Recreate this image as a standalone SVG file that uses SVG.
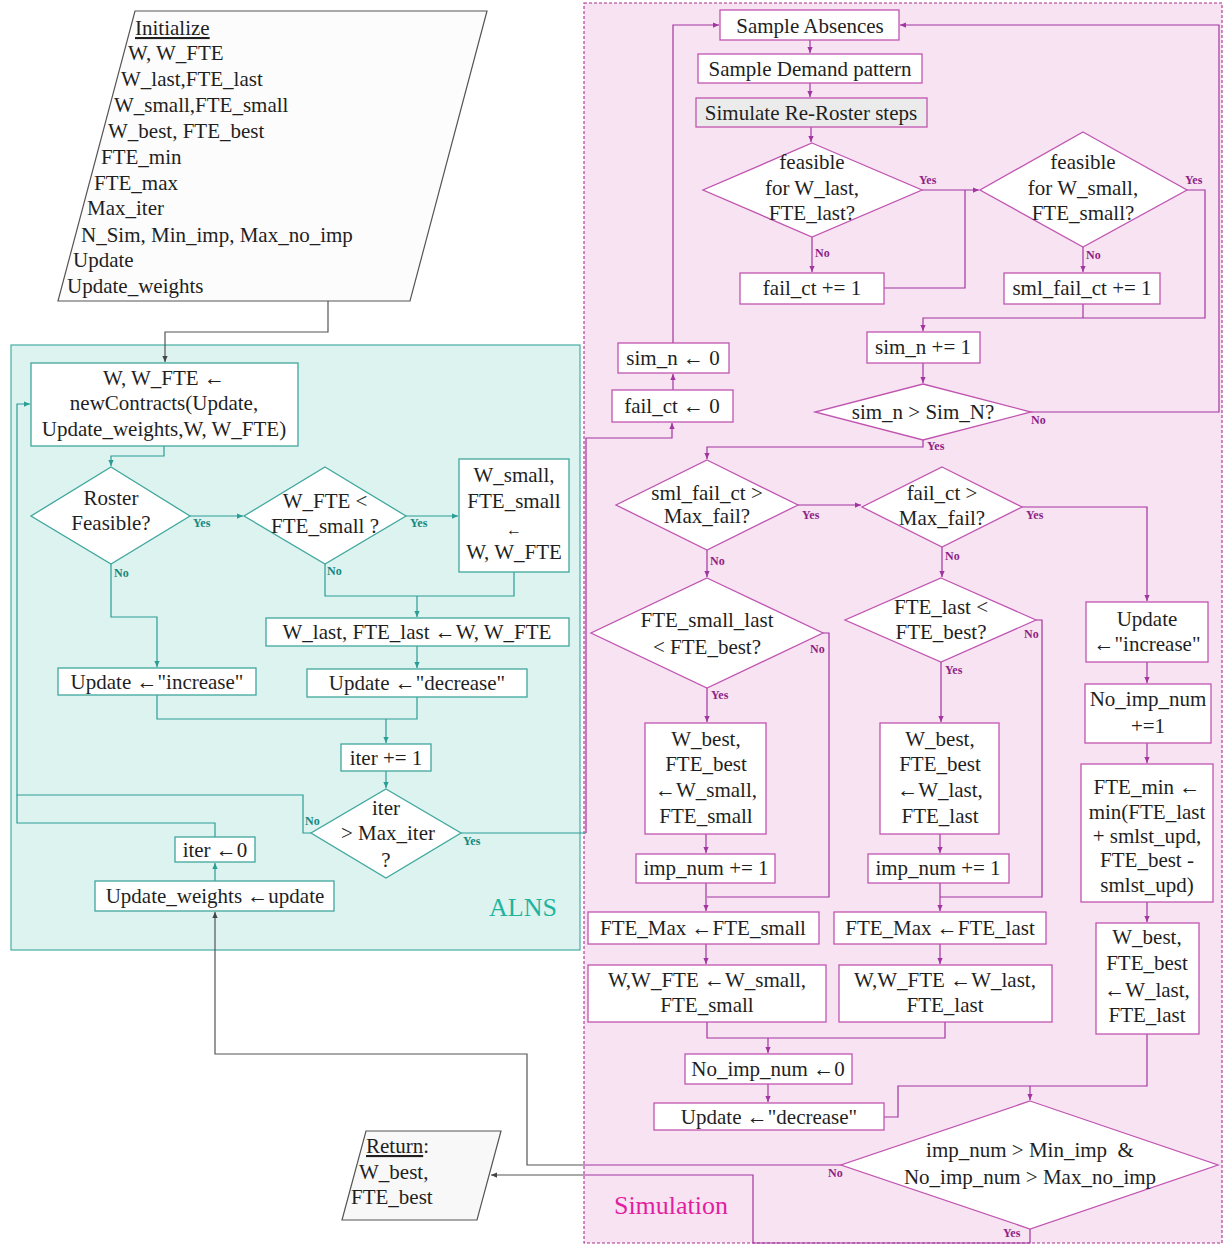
<svg xmlns="http://www.w3.org/2000/svg" width="1225" height="1245" viewBox="0 0 1225 1245">
<style>
.t{font-family:"Liberation Serif","Times New Roman",serif;font-size:21px;fill:#1f1f1f;text-anchor:middle}
.tl{font-family:"Liberation Serif","Times New Roman",serif;font-size:21px;fill:#1f1f1f}
.la{font-family:"Liberation Serif","Times New Roman",serif;font-size:12px;font-weight:bold;fill:#15877d}
.ls{font-family:"Liberation Serif","Times New Roman",serif;font-size:12px;font-weight:bold;fill:#8e1f86}
.na{fill:#ffffff;stroke:#3fa79d;stroke-width:1.3}
.ns{fill:#ffffff;stroke:#c055b0;stroke-width:1.3}
.ca{fill:none;stroke:#2a9d95;stroke-width:1.2}
.cs{fill:none;stroke:#a235a0;stroke-width:1.2}
.cg{fill:none;stroke:#555555;stroke-width:1.2}
</style>
<defs>
<marker id="ma" viewBox="0 0 8 8" refX="8" refY="4" markerWidth="6" markerHeight="6" markerUnits="userSpaceOnUse" orient="auto"><path d="M0,0.5 L8,4 L0,7.5z" fill="#2a9d95"/></marker>
<marker id="ms" viewBox="0 0 8 8" refX="8" refY="4" markerWidth="6" markerHeight="6" markerUnits="userSpaceOnUse" orient="auto"><path d="M0,0.5 L8,4 L0,7.5z" fill="#a235a0"/></marker>
<marker id="mg" viewBox="0 0 8 8" refX="8" refY="4" markerWidth="6" markerHeight="6" markerUnits="userSpaceOnUse" orient="auto"><path d="M0,0.5 L8,4 L0,7.5z" fill="#444444"/></marker>
</defs>
<rect x="0" y="0" width="1225" height="1245" fill="#ffffff"/>

<!-- containers -->
<g id="alns">
<rect x="11" y="345" width="569" height="605" fill="#dcf3ef" stroke="#45aea3" stroke-width="1.2"/>
<text x="523" y="916" style="font-family:'Liberation Serif','Times New Roman',serif;font-size:26px;fill:#1fb4a0;text-anchor:middle">ALNS</text>
</g>
<g id="simulation">
<rect x="584" y="3" width="638" height="1240" fill="#f8e3f3" stroke="#a8308f" stroke-width="1.1" stroke-dasharray="3,2"/>
<text x="671" y="1214" style="font-family:'Liberation Serif','Times New Roman',serif;font-size:26px;fill:#e21ea0;text-anchor:middle">Simulation</text>
</g>

<!-- connectors -->
<g id="connectors">
<path class="cg" d="M328,301 V332 H165 V362" marker-end="url(#mg)"/>
<path class="ca" d="M164,446 V456 H111 V466" marker-end="url(#ma)"/>
<path class="ca" d="M190,516 H243" marker-end="url(#ma)"/>
<path class="ca" d="M406,516 H458" marker-end="url(#ma)"/>
<path class="ca" d="M111,564 V617 H157 V667" marker-end="url(#ma)"/>
<path class="ca" d="M325,564 V596 H514 V572"/>
<path class="ca" d="M417,596 V617" marker-end="url(#ma)"/>
<path class="ca" d="M417,646 V668" marker-end="url(#ma)"/>
<path class="ca" d="M157,695 V719 H417 V697"/>
<path class="ca" d="M386,719 V743" marker-end="url(#ma)"/>
<path class="ca" d="M386,771 V788" marker-end="url(#ma)"/>
<path class="ca" d="M311,833 H303 V795 H17 V404 H30" marker-end="url(#ma)"/>
<path class="ca" d="M215,837 V823 H17 V795"/>
<path class="ca" d="M215,881 V863" marker-end="url(#ma)"/>
<path class="ca" d="M461,833 H586"/>
<path class="cs" d="M586,833 V438 H672 V423" marker-end="url(#ms)"/>
<path class="cs" d="M673,390 V374" marker-end="url(#ms)"/>
<path class="cs" d="M673,343 V25 H719" marker-end="url(#ms)"/>
<path class="cs" d="M1031,412 H1219 V25 H900" marker-end="url(#ms)"/>
<path class="cs" d="M810,40 V53" marker-end="url(#ms)"/>
<path class="cs" d="M810,83 V97" marker-end="url(#ms)"/>
<path class="cs" d="M811,127 V142" marker-end="url(#ms)"/>
<path class="cs" d="M922,190 H979" marker-end="url(#ms)"/>
<path class="cs" d="M812,237 V272" marker-end="url(#ms)"/>
<path class="cs" d="M884,288 H965 V190"/>
<path class="cs" d="M1187,190 H1205 V318 H923 V331" marker-end="url(#ms)"/>
<path class="cs" d="M1083,247 V272" marker-end="url(#ms)"/>
<path class="cs" d="M1083,304 V318"/>
<path class="cs" d="M923,363 V383" marker-end="url(#ms)"/>
<path class="cs" d="M923,440 V447 H707 V459" marker-end="url(#ms)"/>
<path class="cs" d="M798,505 H861" marker-end="url(#ms)"/>
<path class="cs" d="M707,550 V577" marker-end="url(#ms)"/>
<path class="cs" d="M942,547 V577" marker-end="url(#ms)"/>
<path class="cs" d="M1022,507 H1147 V601" marker-end="url(#ms)"/>
<path class="cs" d="M707,688 V722" marker-end="url(#ms)"/>
<path class="cs" d="M941,662 V722" marker-end="url(#ms)"/>
<path class="cs" d="M823,633 H829 V897 H707"/>
<path class="cs" d="M1036,620 H1042 V897 H940"/>
<path class="cs" d="M706,834 V853" marker-end="url(#ms)"/>
<path class="cs" d="M940,834 V853" marker-end="url(#ms)"/>
<path class="cs" d="M706,883 V911" marker-end="url(#ms)"/>
<path class="cs" d="M940,883 V911" marker-end="url(#ms)"/>
<path class="cs" d="M706,944 V964" marker-end="url(#ms)"/>
<path class="cs" d="M940,944 V964" marker-end="url(#ms)"/>
<path class="cs" d="M707,1022 V1038 H945 V1022"/>
<path class="cs" d="M768,1038 V1053" marker-end="url(#ms)"/>
<path class="cs" d="M768,1084 V1102" marker-end="url(#ms)"/>
<path class="cs" d="M884,1117 H898 V1086 H1147 V1034"/>
<path class="cs" d="M1030,1086 V1100" marker-end="url(#ms)"/>
<path class="cs" d="M1147,662 V683" marker-end="url(#ms)"/>
<path class="cs" d="M1147,743 V763" marker-end="url(#ms)"/>
<path class="cs" d="M1147,902 V922" marker-end="url(#ms)"/>
<path class="cs" d="M841,1165 H584"/>
<path class="cg" d="M584,1165 H527 V1054 H215 V912" marker-end="url(#mg)"/>
<path class="cs" d="M1030,1229 V1243 H753 V1175 H584"/>
<path class="cg" d="M584,1175 H491" marker-end="url(#mg)"/>
</g>

<!-- connector labels -->
<g id="labels">
<text class="la" x="193" y="527">Yes</text>
<text class="la" x="410" y="527">Yes</text>
<text class="la" x="114" y="577">No</text>
<text class="la" x="327" y="575">No</text>
<text class="la" x="305" y="825">No</text>
<text class="la" x="463" y="845">Yes</text>
<text class="ls" x="919" y="184">Yes</text>
<text class="ls" x="1185" y="184">Yes</text>
<text class="ls" x="815" y="257">No</text>
<text class="ls" x="1086" y="259">No</text>
<text class="ls" x="1031" y="424">No</text>
<text class="ls" x="927" y="450">Yes</text>
<text class="ls" x="802" y="519">Yes</text>
<text class="ls" x="1026" y="519">Yes</text>
<text class="ls" x="710" y="565">No</text>
<text class="ls" x="945" y="560">No</text>
<text class="ls" x="810" y="653">No</text>
<text class="ls" x="1024" y="638">No</text>
<text class="ls" x="711" y="699">Yes</text>
<text class="ls" x="945" y="674">Yes</text>
<text class="ls" x="828" y="1177">No</text>
<text class="ls" x="1003" y="1237">Yes</text>
</g>

<!-- ALNS nodes -->
<g id="initialize">
<polygon points="135,11 487,11 410,301 58,301" fill="#fcfcfc" stroke="#555" stroke-width="1.2"/>
<text class="tl" x="135" y="35" text-decoration="underline">Initialize</text>
<text class="tl" x="128" y="60">W, W_FTE</text>
<text class="tl" x="121" y="86">W_last,FTE_last</text>
<text class="tl" x="114" y="112">W_small,FTE_small</text>
<text class="tl" x="108" y="138">W_best, FTE_best</text>
<text class="tl" x="101" y="164">FTE_min</text>
<text class="tl" x="94" y="190">FTE_max</text>
<text class="tl" x="87" y="215">Max_iter</text>
<text class="tl" x="81" y="242">N_Sim, Min_imp, Max_no_imp</text>
<text class="tl" x="73" y="267">Update</text>
<text class="tl" x="67" y="293">Update_weights</text>
</g>
<g id="newContracts">
<rect class="na" x="31" y="363" width="267" height="83"/>
<text class="t" x="164" y="385">W, W_FTE ←</text>
<text class="t" x="164" y="410">newContracts(Update,</text>
<text class="t" x="164" y="436">Update_weights,W, W_FTE)</text>
</g>
<g id="rosterFeasible">
<polygon class="na" points="111,467 190,516 111,564 31,516"/>
<text class="t" x="111" y="505">Roster</text>
<text class="t" x="111" y="530">Feasible?</text>
</g>
<g id="wfteSmall">
<polygon class="na" points="325,467 406,516 325,564 244,516"/>
<text class="t" x="325" y="508">W_FTE &lt;</text>
<text class="t" x="325" y="533">FTE_small ?</text>
</g>
<g id="setSmall">
<rect class="na" x="459" y="459" width="110" height="113"/>
<text class="t" x="514" y="482">W_small,</text>
<text class="t" x="514" y="508">FTE_small</text>
<text class="t" x="514" y="535" style="font-size:16px">←</text>
<text class="t" x="514" y="559">W, W_FTE</text>
</g>
<g id="setLast">
<rect class="na" x="266" y="618" width="303" height="28"/>
<text class="t" x="417" y="639">W_last, FTE_last ←W, W_FTE</text>
</g>
<g id="updIncrease">
<rect class="na" x="58" y="668" width="198" height="27"/>
<text class="t" x="157" y="689">Update ←"increase"</text>
</g>
<g id="updDecrease">
<rect class="na" x="307" y="669" width="220" height="28"/>
<text class="t" x="417" y="690">Update ←"decrease"</text>
</g>
<g id="iterInc">
<rect class="na" x="341" y="744" width="90" height="27"/>
<text class="t" x="386" y="765">iter += 1</text>
</g>
<g id="iterMax">
<polygon class="na" points="386,789 461,833 386,878 311,833"/>
<text class="t" x="386" y="815">iter</text>
<text class="t" x="388" y="840">&gt; Max_iter</text>
<text class="t" x="386" y="867">?</text>
</g>
<g id="iterZero">
<rect class="na" x="175" y="837" width="80" height="25"/>
<text class="t" x="215" y="857">iter ←0</text>
</g>
<g id="updWeights">
<rect class="na" x="95" y="881" width="239" height="30"/>
<text class="t" x="215" y="903">Update_weights ←update</text>
</g>

<!-- Simulation nodes -->
<g id="sampleAbs">
<rect class="ns" x="720" y="10" width="179" height="30"/>
<text class="t" x="810" y="33">Sample Absences</text>
</g>
<g id="sampleDem">
<rect class="ns" x="698" y="54" width="224" height="29"/>
<text class="t" x="810" y="76">Sample Demand pattern</text>
</g>
<g id="simReRoster">
<rect x="696" y="98" width="231" height="29" fill="#ebebeb" stroke="#c055b0" stroke-width="1.3"/>
<text class="t" x="811" y="120">Simulate Re-Roster steps</text>
</g>
<g id="feasLast">
<polygon class="ns" points="812,143 922,190 812,237 703,190"/>
<text class="t" x="812" y="169">feasible</text>
<text class="t" x="812" y="195">for W_last,</text>
<text class="t" x="812" y="220">FTE_last?</text>
</g>
<g id="feasSmall">
<polygon class="ns" points="1083,132 1187,190 1083,247 980,190"/>
<text class="t" x="1083" y="169">feasible</text>
<text class="t" x="1083" y="195">for W_small,</text>
<text class="t" x="1083" y="220">FTE_small?</text>
</g>
<g id="failInc">
<rect class="ns" x="740" y="273" width="144" height="31"/>
<text class="t" x="812" y="295">fail_ct += 1</text>
</g>
<g id="smlFailInc">
<rect class="ns" x="1004" y="273" width="156" height="31"/>
<text class="t" x="1082" y="295">sml_fail_ct += 1</text>
</g>
<g id="simInc">
<rect class="ns" x="867" y="332" width="113" height="31"/>
<text class="t" x="923" y="354">sim_n += 1</text>
</g>
<g id="simMax">
<polygon class="ns" points="923,384 1031,412 923,440 815,412"/>
<text class="t" x="923" y="419">sim_n &gt; Sim_N?</text>
</g>
<g id="simZero">
<rect class="ns" x="618" y="343" width="111" height="30"/>
<text class="t" x="673" y="365">sim_n ← 0</text>
</g>
<g id="failZero">
<rect class="ns" x="612" y="390" width="121" height="32"/>
<text class="t" x="672" y="413">fail_ct ← 0</text>
</g>
<g id="smlFailMax">
<polygon class="ns" points="707,460 798,505 707,550 616,505"/>
<text class="t" x="707" y="500">sml_fail_ct &gt;</text>
<text class="t" x="707" y="523">Max_fail?</text>
</g>
<g id="failMax">
<polygon class="ns" points="942,467 1022,507 942,547 862,507"/>
<text class="t" x="942" y="500">fail_ct &gt;</text>
<text class="t" x="942" y="525">Max_fail?</text>
</g>
<g id="smallLastBest">
<polygon class="ns" points="707,578 823,633 707,688 591,633"/>
<text class="t" x="707" y="627">FTE_small_last</text>
<text class="t" x="707" y="654">&lt; FTE_best?</text>
</g>
<g id="lastBest">
<polygon class="ns" points="941,578 1036,620 941,662 845,620"/>
<text class="t" x="941" y="614">FTE_last &lt;</text>
<text class="t" x="941" y="639">FTE_best?</text>
</g>
<g id="updIncSim">
<rect class="ns" x="1086" y="602" width="122" height="60"/>
<text class="t" x="1147" y="626">Update</text>
<text class="t" x="1147" y="651">←"increase"</text>
</g>
<g id="noImpInc">
<rect class="ns" x="1085" y="684" width="126" height="59"/>
<text class="t" x="1148" y="706">No_imp_num</text>
<text class="t" x="1148" y="733">+=1</text>
</g>
<g id="fteMin">
<rect class="ns" x="1081" y="764" width="132" height="138"/>
<text class="t" x="1147" y="794">FTE_min ←</text>
<text class="t" x="1147" y="819">min(FTE_last</text>
<text class="t" x="1147" y="843">+ smlst_upd,</text>
<text class="t" x="1147" y="867">FTE_best -</text>
<text class="t" x="1147" y="892">smlst_upd)</text>
</g>
<g id="bestLastR">
<rect class="ns" x="1096" y="923" width="103" height="111"/>
<text class="t" x="1147" y="944">W_best,</text>
<text class="t" x="1147" y="970">FTE_best</text>
<text class="t" x="1147" y="997">←W_last,</text>
<text class="t" x="1147" y="1022">FTE_last</text>
</g>
<g id="bestSmall">
<rect class="ns" x="645" y="723" width="121" height="111"/>
<text class="t" x="706" y="746">W_best,</text>
<text class="t" x="706" y="771">FTE_best</text>
<text class="t" x="706" y="797">←W_small,</text>
<text class="t" x="706" y="823">FTE_small</text>
</g>
<g id="impInc1">
<rect class="ns" x="636" y="854" width="139" height="29"/>
<text class="t" x="706" y="875">imp_num += 1</text>
</g>
<g id="fteMaxSmall">
<rect class="ns" x="588" y="912" width="231" height="32"/>
<text class="t" x="703" y="935">FTE_Max ←FTE_small</text>
</g>
<g id="bestLast">
<rect class="ns" x="880" y="723" width="119" height="111"/>
<text class="t" x="940" y="746">W_best,</text>
<text class="t" x="940" y="771">FTE_best</text>
<text class="t" x="940" y="797">←W_last,</text>
<text class="t" x="940" y="823">FTE_last</text>
</g>
<g id="impInc2">
<rect class="ns" x="868" y="854" width="141" height="29"/>
<text class="t" x="938" y="875">imp_num += 1</text>
</g>
<g id="fteMaxLast">
<rect class="ns" x="834" y="912" width="212" height="32"/>
<text class="t" x="940" y="935">FTE_Max ←FTE_last</text>
</g>
<g id="wSmall">
<rect class="ns" x="588" y="965" width="238" height="57"/>
<text class="t" x="707" y="987">W,W_FTE ←W_small,</text>
<text class="t" x="707" y="1012">FTE_small</text>
</g>
<g id="wLast">
<rect class="ns" x="839" y="965" width="213" height="57"/>
<text class="t" x="945" y="987">W,W_FTE ←W_last,</text>
<text class="t" x="945" y="1012">FTE_last</text>
</g>
<g id="noImpZero">
<rect class="ns" x="685" y="1054" width="167" height="30"/>
<text class="t" x="768" y="1076">No_imp_num ←0</text>
</g>
<g id="updDecSim">
<rect class="ns" x="654" y="1103" width="230" height="27"/>
<text class="t" x="769" y="1124">Update ←"decrease"</text>
</g>
<g id="impCheck">
<polygon class="ns" points="1030,1101 1218,1165 1030,1229 841,1165"/>
<text class="t" x="1030" y="1157" xml:space="preserve">imp_num &gt; Min_imp  &amp;</text>
<text class="t" x="1030" y="1184">No_imp_num &gt; Max_no_imp</text>
</g>

<g id="return">
<polygon points="366,1131 501,1131 477,1220 342,1220" fill="#f8f8f8" stroke="#555" stroke-width="1.2"/>
<text class="tl" x="366" y="1153"><tspan text-decoration="underline">Return</tspan>:</text>
<text class="tl" x="359" y="1179">W_best,</text>
<text class="tl" x="351" y="1204">FTE_best</text>
</g>
</svg>
